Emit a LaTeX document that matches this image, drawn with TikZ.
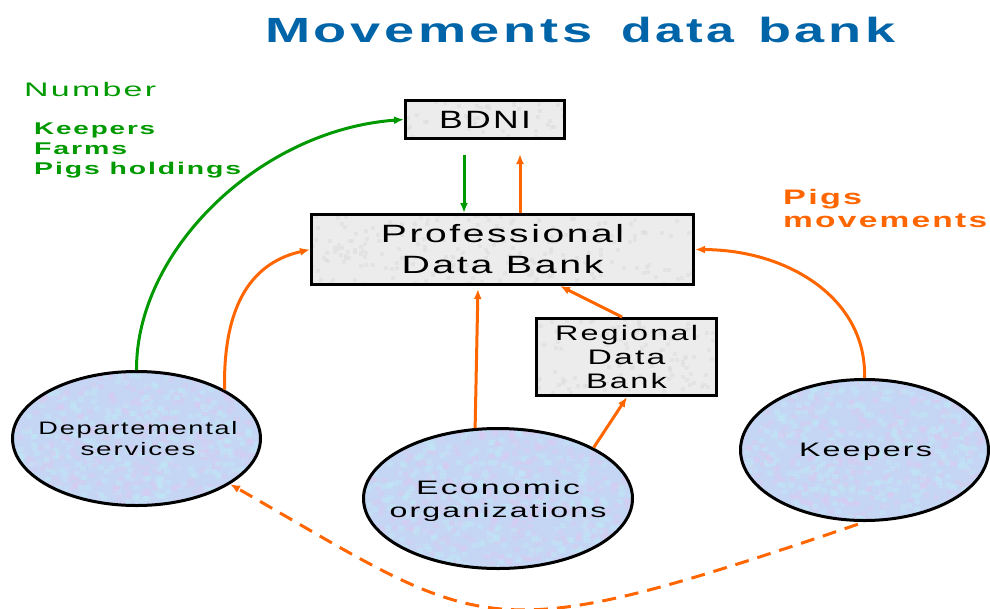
\documentclass[tikz,border=0pt]{standalone}
\usepackage{fontspec}
\setmainfont{Liberation Sans}[FakeStretch=1.2,LetterSpace=8]
\usetikzlibrary{arrows.meta,shapes.geometric,calc}
\definecolor{ttlblue}{RGB}{0,100,168}
\definecolor{grn}{RGB}{0,153,0}
\definecolor{org}{RGB}{255,102,0}
\definecolor{boxgray}{RGB}{236,236,236}
\definecolor{boxdark}{RGB}{222,222,222}
\definecolor{ellblue}{RGB}{196,214,244}
\definecolor{ellpink}{RGB}{216,204,242}
\definecolor{ellcyan}{RGB}{192,230,246}
\newcommand\fw[2]{\resizebox{#1pt}{\height}{#2}}
\begin{document}
\begin{tikzpicture}[x=1pt,y=-1pt,
  databox/.style={draw=black,line width=3pt,fill=boxgray,rectangle,inner sep=0pt,align=center,
    path picture={\foreach \k in {1,...,260}{
      \pgfmathsetmacro\rx{rand}\pgfmathsetmacro\ry{rand}
      \fill[boxdark,opacity=0.6] ($(path picture bounding box.center)+(\rx*195,\ry*42)$) rectangle +(4,4);}}},
  actor/.style={draw=black,line width=3pt,fill=ellblue,ellipse,inner sep=0pt,
    path picture={\foreach \k in {1,...,420}{
      \pgfmathsetmacro\rx{rand}\pgfmathsetmacro\ry{rand}
      \fill[ellpink,opacity=0.55] ($(path picture bounding box.center)+(\rx*138,\ry*74)$) rectangle +(6,5);
      \pgfmathsetmacro\sx{rand}\pgfmathsetmacro\sy{rand}
      \fill[ellcyan,opacity=0.55] ($(path picture bounding box.center)+(\sx*138,\sy*74)$) rectangle +(6,5);}}},
  lbl/.style={inner sep=0pt,align=center},
  flow/.style={line width=3pt,-{Latex[length=10pt,width=8pt]}},
  oflow/.style={flow,draw=org},
  gflow/.style={flow,draw=grn},
]
\pgfmathsetseed{4242}
\useasboundingbox (0,0) rectangle (990,608);
% title and side texts
\node[inner sep=0pt,anchor=base west,text=ttlblue,font=\fontsize{35}{42}\selectfont\bfseries] (title) at (265,42)
  {\fw{327}{Movements}\hspace{29pt}\fw{113}{data}\hspace{24pt}\fw{137}{bank}};
\node[inner sep=0pt,anchor=base west,text=grn,font=\fontsize{19.6}{24}\selectfont] (num) at (24,96) {\fw{132}{Number}};
\node[inner sep=0pt,anchor=west,align=left,text=grn,font=\fontsize{17}{20}\selectfont\bfseries] (cats) at (34,150.7)
  {\fw{121}{Keepers}\\\fw{93}{Farms}\\\fw{207}{Pigs holdings}};
\node[inner sep=0pt,anchor=west,align=left,text=org,font=\fontsize{21}{23}\selectfont\bfseries] (pm) at (783,208)
  {\fw{79}{Pigs}\\\fw{204}{movements}};
% boxes
\node[databox,minimum width=159pt,minimum height=38pt,font=\fontsize{25}{30}\selectfont] (bdni) at (485,119.5) {\fw{92}{BDNI}};
\node[databox,minimum width=382pt,minimum height=70pt,font=\fontsize{25}{31}\selectfont] (pdb) at (502.5,249.5)
  {\fw{243}{Professional}\\\fw{202}{Data Bank}};
\node[databox,minimum width=180pt,minimum height=77pt,font=\fontsize{21}{24}\selectfont] (rdb) at (626.5,357)
  {\fw{143}{Regional}\\\fw{78}{Data}\\\fw{81}{Bank}};
% ellipses
\node[actor,minimum width=248pt,minimum height=134pt] (dept) at (136.5,438.5) {};
\node[actor,minimum width=269pt,minimum height=140pt] (econ) at (498,498.5) {};
\node[actor,minimum width=248pt,minimum height=141pt] (keep) at (864.5,450) {};
\node[lbl,font=\fontsize{18}{21}\selectfont] (deptL) at (138,439) {\fw{199}{Departemental}\\\fw{115}{services}};
\node[lbl,font=\fontsize{19.5}{23}\selectfont] (econL) at (498,500.5) {\fw{164}{Economic}\\\fw{217}{organizations}};
\node[lbl,font=\fontsize{19.5}{23}\selectfont] (keepL) at (865.5,452) {\fw{133}{Keepers}};
% connectors
\coordinate (gd) at (464,155);
\coordinate (ou) at (520,154);
\coordinate (eu) at (478,0);
\coordinate (er) at (627,0);
\coordinate (rt) at (622,0);
\coordinate (pb) at (560,0);
\draw[gflow] (dept.north) .. controls (136,250) and (260,130) .. (bdni.west);
\draw[gflow] (gd) -- (gd |- pdb.north);
\draw[oflow] (ou |- pdb.north) -- (ou);
\draw[oflow] (dept.29) .. controls (223,300) and (255,262) .. (pdb.west);
\draw[oflow,shorten >=3pt] (econ.108) -- (eu |- pdb.south);
\draw[oflow] (econ.28) -- (er |- rdb.south);
\draw[oflow] (rt |- rdb.north) -- (pb |- pdb.south);
\draw[oflow] (keep.north) .. controls (867,300) and (790,250) .. (pdb.east);
\draw[oflow,dash pattern=on 14pt off 9pt,shorten <=7pt] (keep.south) .. controls (478,653) and (490,633) .. (dept.-26);
\end{tikzpicture}
\end{document}
